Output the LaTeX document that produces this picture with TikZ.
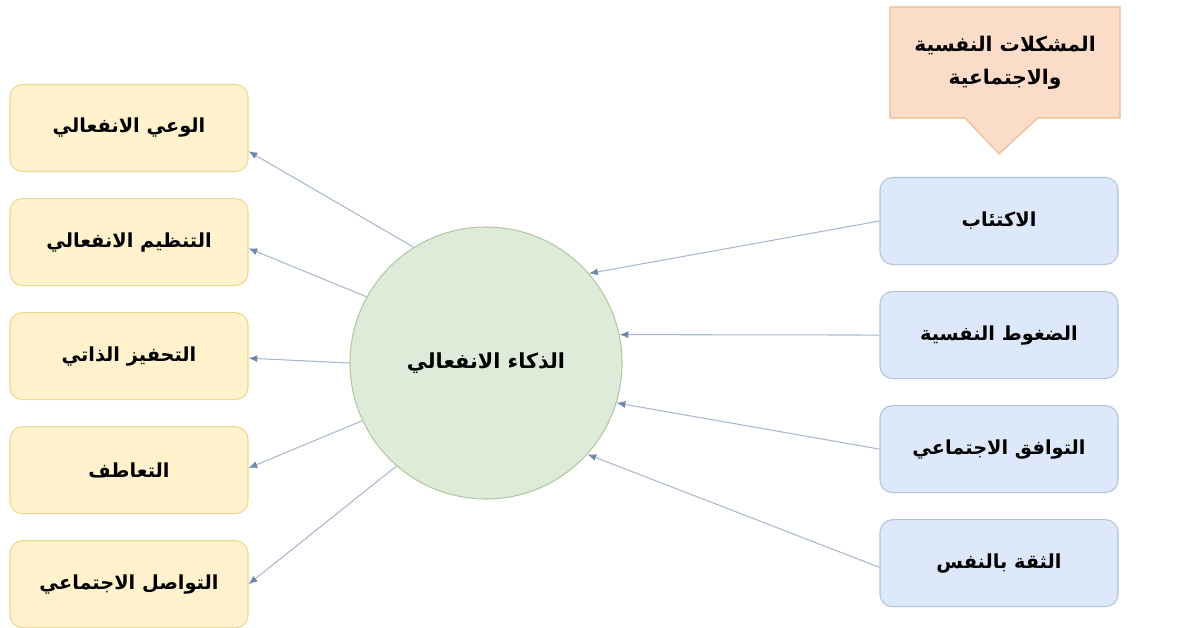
\documentclass[tikz,border=0pt]{standalone}
\usepackage{fontspec}
\newfontfamily\arabicfont[Script=Arabic]{DejaVu Sans}
\TeXXeTstate=1
\usetikzlibrary{shapes.geometric, shapes.callouts, arrows.meta, positioning}
\definecolor{yellowfill}{HTML}{FFF2CC}
\definecolor{yellowline}{HTML}{EDD796}
\definecolor{bluefill}{HTML}{DDE9FA}
\definecolor{blueline}{HTML}{B3C3DA}
\definecolor{greenfill}{HTML}{DDEBD8}
\definecolor{greenline}{HTML}{B2C8A2}
\definecolor{peachfill}{HTML}{FBDCC9}
\definecolor{peachline}{HTML}{EBB98F}
\definecolor{linkcolor}{HTML}{A8B7CE}
\definecolor{tipcolor}{HTML}{7088AA}
\newcommand{\artext}[1]{{\arabicfont\bfseries\beginR #1\endR}}
\tikzstyle{arrow} = [line width=0.6pt, draw=linkcolor, -{Latex[length=5pt, width=4pt, color=tipcolor]}]

\begin{document}
\begin{tikzpicture}[node distance=0.52cm]

\tikzstyle{skillnode} = [rectangle, draw=yellowline, fill=yellowfill, rounded corners=0.25cm, text centered, minimum width=4.76cm, minimum height=1.74cm, align=center, line width=0.6pt, font=\fontsize{11}{14}\selectfont]
\tikzstyle{problemnode} = [rectangle, draw=blueline, fill=bluefill, rounded corners=0.25cm, text centered, minimum width=4.76cm, minimum height=1.74cm, align=center, line width=0.6pt, font=\fontsize{11}{14}\selectfont]
\tikzstyle{centralnode} = [circle, draw=greenline, fill=greenfill, text centered, minimum size=5.44cm, line width=0.6pt, font=\fontsize{11.8}{15}\selectfont]
\tikzstyle{titlenode} = [rectangle callout, draw=peachline, fill=peachfill, text centered, minimum width=4.6cm, minimum height=2.22cm, align=center, line width=0.6pt, callout pointer width=1.46cm, font=\fontsize{11.5}{19}\selectfont]

\useasboundingbox (0,0) rectangle (23.7,-12.56);

% Nodes
\node (eq) [centralnode] at (9.72,-7.26) {\artext{الذكاء الانفعالي}};
\node (awareness) [skillnode] at (2.58,-2.56) {\artext{الوعي الانفعالي}};
\node (regulation) [skillnode, below=of awareness] {\artext{التنظيم الانفعالي}};
\node (motivation) [skillnode, below=of regulation] {\artext{التحفيز الذاتي}};
\node (empathy) [skillnode, below=of motivation] {\artext{التعاطف}};
\node (communication) [skillnode, below=of empathy] {\artext{التواصل الاجتماعي}};
\node (depression) [problemnode] at (19.98,-4.42) {\artext{الاكتئاب}};
\node (stress) [problemnode, below=of depression] {\artext{الضغوط النفسية}};
\node (adjustment) [problemnode, below=of stress] {\artext{التوافق الاجتماعي}};
\node (confidence) [problemnode, below=of adjustment] {\artext{الثقة بالنفس}};
\node (problems) [titlenode, callout absolute pointer={([yshift=0.46cm]depression.north)}] at (20.1,-1.25) {\artext{المشكلات النفسية}\\\artext{والاجتماعية}};

% Arrows
\draw [arrow] (eq.122.6) -- (awareness.-11);
\draw [arrow] (eq.151.4) -- (regulation.-3);
\draw [arrow] (eq.180) -- (motivation.-1);
\draw [arrow] (eq.205) -- (empathy.1.5);
\draw [arrow] (eq.229.8) -- (communication.east);
\draw [arrow] (depression.west) -- (eq.41);
\draw [arrow] (stress.west) -- (eq.12);
\draw [arrow] (adjustment.west) -- (eq.-17.5);
\draw [arrow] (confidence.-178) -- (eq.-42.3);

\end{tikzpicture}
\end{document}
